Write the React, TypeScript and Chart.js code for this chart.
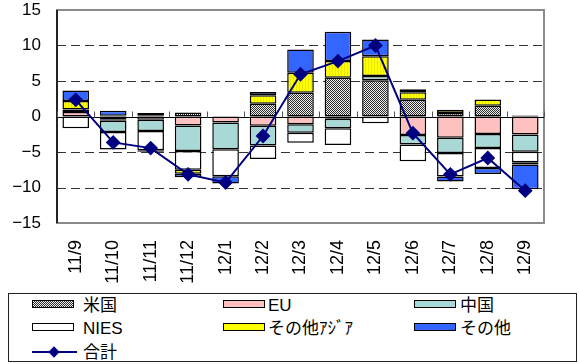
import React, { useEffect, useRef } from 'react';
import { Chart, registerables } from 'chart.js';

Chart.register(...registerables);

const categories = ['11/9', '11/10', '11/11', '11/12', '12/1', '12/2', '12/3', '12/4', '12/5', '12/6', '12/7', '12/8', '12/9'];
const usValues = [0, -0.4, 0.1, 0.55, 0, 1.8, 3.35, 5.45, 5.1, 2.35, 0.5, 1.5, 0.15];
const euValues = [0.65, -0.2, -0.45, -1.25, -0.85, -1.3, -1.1, -0.3, -0.05, -2.6, -3.0, -2.45, -2.55];
const chinaValues = [0.35, -1.6, -1.6, -3.6, -3.75, -2.8, -1.2, -1.35, 0.6, -1.35, -2.15, -2.0, -2.4];
const niesValues = [-1.65, -2.45, -2.7, -2.65, -3.8, -1.9, -1.4, -2.35, -0.9, -2.35, -3.3, -2.8, -1.5];
const otherAsiaValues = [1.2, 0.1, -0.2, -0.55, 0, 1.2, 2.8, 2.35, 2.8, 1.05, 0.45, 0.9, -0.3];
const otherValues = [1.45, 0.7, 0.4, -0.5, -1.05, 0.45, 3.3, 4.15, 2.35, 0.45, -0.7, -0.85, -3.5];
const totalValues = [2.35, -3.65, -4.45, -8.15, -9.3, -2.75, 5.95, 7.8, 10.0, -2.35, -8.15, -5.85, -10.45];

const seriesNames = ['米国', 'EU', '中国', 'NIES', 'その他ｱｼﾞｱ', 'その他'];
const totalName = '合計';
const yMin = -15;
const yMax = 15;
const yStep = 5;

const FONT = '"Liberation Sans", "Noto Sans CJK JP", sans-serif';

const gridPlugin = {
  id: 'customGrid',
  beforeDatasetsDraw(chart: any) {
    const { ctx, chartArea: a, scales } = chart;
    const x = scales.x;
    const y = scales.y;
    ctx.save();
    // dashed grid lines
    ctx.strokeStyle = '#333';
    ctx.lineWidth = 1;
    ctx.setLineDash([9, 5]);
    y.ticks.forEach((t: any) => {
      if (t.value === 0 || t.value === yMin || t.value === yMax) return;
      const py = Math.round(y.getPixelForValue(t.value)) + 0.5;
      ctx.beginPath();
      ctx.moveTo(a.left, py);
      ctx.lineTo(a.right, py);
      ctx.stroke();
    });
    ctx.setLineDash([]);
    // frame
    ctx.strokeStyle = '#8a8a8a';
    ctx.lineWidth = 2;
    ctx.strokeRect(a.left, a.top, a.right - a.left, a.bottom - a.top);
    // left axis
    ctx.strokeStyle = '#000';
    ctx.lineWidth = 1.5;
    ctx.beginPath();
    ctx.moveTo(a.left, a.top);
    ctx.lineTo(a.left, a.bottom);
    ctx.stroke();
    // zero line
    const zy = Math.round(y.getPixelForValue(0)) + 0.5;
    ctx.strokeStyle = '#000';
    ctx.lineWidth = 1;
    ctx.beginPath();
    ctx.moveTo(a.left, zy);
    ctx.lineTo(a.right, zy);
    ctx.stroke();
    // category boundary tick marks
    ctx.strokeStyle = '#555';
    ctx.lineWidth = 1;
    const n = categories.length;
    const step = n > 1 ? x.getPixelForValue(1) - x.getPixelForValue(0) : a.right - a.left;
    for (let i = 0; i <= n; i++) {
      const px = Math.round(x.getPixelForValue(0) - step / 2 + i * step) + 0.5;
      ctx.beginPath();
      ctx.moveTo(px, zy);
      ctx.lineTo(px, zy - 6);
      ctx.stroke();
    }
    ctx.restore();
  },
};

function makeCheckerPattern(ctx: CanvasRenderingContext2D) {
  const pc = document.createElement('canvas');
  pc.width = 2;
  pc.height = 2;
  const p = pc.getContext('2d')!;
  p.fillStyle = '#f0f0f0';
  p.fillRect(0, 0, 2, 2);
  p.fillStyle = '#2a2a2a';
  p.fillRect(0, 0, 1, 1);
  p.fillRect(1, 1, 1, 1);
  return ctx.createPattern(pc, 'repeat');
}

function makeYellowPattern(ctx: CanvasRenderingContext2D) {
  const pc = document.createElement('canvas');
  pc.width = 3;
  pc.height = 3;
  const p = pc.getContext('2d')!;
  p.fillStyle = '#ffff00';
  p.fillRect(0, 0, 3, 3);
  p.fillStyle = '#eaea00';
  p.fillRect(2, 0, 1, 3);
  return ctx.createPattern(pc, 'repeat');
}

const swatchColors = ['', '#FFC0C0', '#A9D9D7', '#FFFFFF', '#FFFF00', '#3366FF'];

export default function App() {
  const ref = useRef<HTMLCanvasElement>(null);

  useEffect(() => {
    document.body.style.margin = '0';
    const canvas = ref.current!;
    const ctx = canvas.getContext('2d')!;
    const usPattern = makeCheckerPattern(ctx);
    const yellowPattern = makeYellowPattern(ctx);
    const fills: any[] = [usPattern, '#FFC0C0', '#A9D9D7', '#FFFFFF', yellowPattern, '#3366FF'];
    const seriesValues = [usValues, euValues, chinaValues, niesValues, otherAsiaValues, otherValues];

    const barDatasets = seriesNames.map((name, i) => ({
      type: 'bar' as const,
      label: name,
      data: seriesValues[i],
      backgroundColor: fills[i],
      borderColor: '#000',
      borderWidth: 1.5,
      borderSkipped: false,
      stack: 'bars',
      order: 1,
      barPercentage: 0.71,
      categoryPercentage: 1,
    }));

    const chart = new Chart(canvas, {
      type: 'bar',
      data: {
        labels: categories,
        datasets: [
          ...barDatasets,
          {
            type: 'line' as const,
            label: totalName,
            data: totalValues,
            borderColor: '#000080',
            backgroundColor: '#000080',
            borderWidth: 2,
            pointStyle: 'rectRot',
            pointRadius: 6,
            pointBackgroundColor: '#000080',
            pointBorderColor: '#000080',
            stack: 'total',
            order: 0,
            fill: false,
            tension: 0,
          } as any,
        ],
      },
      options: {
        responsive: false,
        devicePixelRatio: 1,
        animation: false,
        layout: { padding: { left: 0, right: 36, top: 10, bottom: 0 } },
        plugins: { legend: { display: false }, tooltip: { enabled: false } },
        scales: {
          x: {
            stacked: true,
            grid: { display: false, drawTicks: false },
            border: { display: false },
            ticks: {
              autoSkip: false,
              maxRotation: 90,
              minRotation: 90,
              padding: 17,
              color: '#000',
              font: { family: FONT, size: 18 },
            },
            afterFit: (s: any) => {
              s.height = 69;
              s.paddingLeft = 0;
              s.paddingRight = 0;
            },
          },
          y: {
            stacked: true,
            min: yMin,
            max: yMax,
            grid: { display: false, drawTicks: false },
            border: { display: false },
            ticks: {
              stepSize: yStep,
              padding: 16,
              color: '#000',
              font: { family: FONT, size: 17 },
              callback: (v: any) => String(v).replace('-', '\u2212'),
            },
            afterFit: (s: any) => {
              s.width = 57;
              s.paddingTop = 0;
              s.paddingBottom = 0;
            },
          },
        },
      },
      plugins: [gridPlugin],
    });
    return () => chart.destroy();
  }, []);

  const rows = [304, 327];
  const cols = [32, 223, 414];
  const textCols = [83, 268, 460];
  const textStyle: React.CSSProperties = {
    position: 'absolute',
    fontFamily: FONT,
    fontSize: 17,
    lineHeight: '20px',
    color: '#000',
    whiteSpace: 'nowrap',
  };

  return (
    <div style={{ position: 'absolute', left: 0, top: 0, width: 580, height: 364, background: '#fff', overflow: 'hidden' }}>
      <canvas ref={ref} width={580} height={292} style={{ position: 'absolute', left: 0, top: 0, width: 580, height: 292 }} />
      <div
        style={{
          position: 'absolute',
          left: 8,
          top: 293,
          width: 569,
          height: 69,
          boxSizing: 'border-box',
          border: '1px solid #222',
        }}
      />
      {seriesNames.map((name, i) => {
        const r = Math.floor(i / 3);
        const c = i % 3;
        const cy = rows[r];
        const bg =
          i === 0
            ? 'repeating-conic-gradient(#2a2a2a 0% 25%, #f0f0f0 0% 50%) 0 0 / 2px 2px'
            : swatchColors[i];
        return (
          <React.Fragment key={name}>
            <div
              style={{
                position: 'absolute',
                left: cols[c],
                top: cy - 4,
                width: 42,
                height: 8,
                boxSizing: 'border-box',
                border: '1.5px solid #000',
                background: bg,
              }}
            />
            <div style={{ ...textStyle, left: textCols[c], top: cy - 8 }}>{name}</div>
          </React.Fragment>
        );
      })}
      <div style={{ position: 'absolute', left: 32, top: 351, width: 45, height: 2, background: '#000080' }} />
      <div
        style={{
          position: 'absolute',
          left: 50,
          top: 348,
          width: 8,
          height: 8,
          background: '#000080',
          transform: 'rotate(45deg)',
        }}
      />
      <div style={{ ...textStyle, left: 83, top: 343 }}>{totalName}</div>
    </div>
  );
}
